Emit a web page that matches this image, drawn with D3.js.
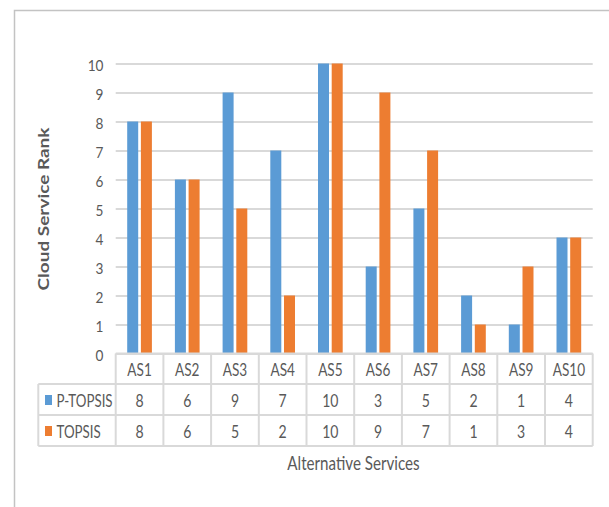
<!DOCTYPE html>
<html>
<head>
<meta charset="utf-8">
<script src="https://cdn.jsdelivr.net/npm/d3@7"></script>
<style>
  html, body { margin: 0; padding: 0; background: #ffffff; }
  svg { display: block; }
  text { font-family: Lato, "Open Sans", sans-serif; fill: #595959; }
</style>
</head>
<body>
<div id="chart"></div>
<script>
// Cloud service ranking of ten alternative services by two methods
const categories = ["AS1", "AS2", "AS3", "AS4", "AS5", "AS6", "AS7", "AS8", "AS9", "AS10"];
const seriesNames = ["P-TOPSIS", "TOPSIS"];
const pTopsisRanks = [8, 6, 9, 7, 10, 3, 5, 2, 1, 4];
const topsisRanks = [8, 6, 5, 2, 10, 9, 7, 1, 3, 4];
const yTicks = [0, 1, 2, 3, 4, 5, 6, 7, 8, 9, 10];
const seriesColors = ["#5B9BD5", "#ED7D31"];

const W = 609, H = 507;
const plot = { left: 115.7, right: 592.7, top: 63.5, bottom: 353.5 };
const table = { left: 38.3, rowTops: [353.5, 384, 415, 446] };
const gridColor = "#D9D9D9";

const svg = d3.select("#chart").append("svg")
  .attr("width", W).attr("height", H);

// outer chart frame (top and left edges)
svg.append("path")
  .attr("d", `M14.5,${H} L14.5,10.5 L${W},10.5`)
  .attr("fill", "none").attr("stroke", "#C3C3C3").attr("stroke-width", 1.5);

const x = d3.scaleBand().domain(categories).range([plot.left, plot.right]);
const xSub = d3.scaleBand().domain(seriesNames).range([0, x.bandwidth()])
  .paddingInner(0.197).paddingOuter(0.84);
const y = d3.scaleLinear().domain([0, 10]).range([plot.bottom, plot.top]);

// text helper: narrow, slightly condensed labels
function label(g, px, py, str, anchor, size, sx, weight) {
  return g.append("text")
    .attr("transform", `translate(${px},${py}) scale(${sx},1)`)
    .attr("text-anchor", anchor || "middle")
    .attr("dominant-baseline", "central")
    .style("font-size", size + "px")
    .style("font-weight", weight || 400)
    .text(str);
}

// horizontal gridlines
const grid = svg.append("g").attr("transform", `translate(${plot.left},0)`)
  .call(d3.axisLeft(y).tickValues(yTicks).tickSize(-(plot.right - plot.left)).tickFormat(""));
grid.select(".domain").remove();
grid.selectAll(".tick line").attr("stroke", gridColor).attr("stroke-width", 2);

// y tick labels
const yLab = svg.append("g");
yTicks.forEach(t => label(yLab, 103.5, y(t) + 1, String(t), "end", 16, 0.85));

// bars
const series = [pTopsisRanks, topsisRanks];
const barG = svg.append("g");
series.forEach((vals, si) => {
  barG.selectAll(null).data(vals).enter().append("rect")
    .attr("x", (d, i) => x(categories[i]) + xSub(seriesNames[si]))
    .attr("width", xSub.bandwidth())
    .attr("y", d => y(d))
    .attr("height", d => y(0) - y(d))
    .attr("fill", seriesColors[si]);
});

// data table below the axis
const tg = svg.append("g");
const line = (x1, y1, x2, y2) => tg.append("line")
  .attr("x1", x1).attr("y1", y1).attr("x2", x2).attr("y2", y2)
  .attr("stroke", gridColor).attr("stroke-width", 2);
const rt = table.rowTops;
line(plot.left, rt[0], plot.right, rt[0]);
line(table.left, rt[1], plot.right, rt[1]);
line(table.left, rt[2], plot.right, rt[2]);
line(table.left, rt[3], plot.right, rt[3]);
line(table.left, rt[1], table.left, rt[3]);
categories.forEach(c => line(x(c), rt[0], x(c), rt[3]));
line(plot.right, rt[0], plot.right, rt[3]);

// header row: category names
categories.forEach(c => label(tg, x(c) + x.bandwidth() / 2, (rt[0] + rt[1]) / 2 + 1, c, "middle", 17, 0.8));

// value rows with legend keys
series.forEach((vals, si) => {
  const cy = (rt[si + 1] + rt[si + 2]) / 2 + 0.5;
  tg.append("rect").attr("x", 45).attr("y", cy - 5).attr("width", 7).attr("height", 10)
    .attr("fill", seriesColors[si]);
  label(tg, 56.5, cy, seriesNames[si], "start", 18, 0.74);
  vals.forEach((v, i) => label(tg, x(categories[i]) + x.bandwidth() / 2, cy, String(v), "middle", 18, 0.78));
});

// axis titles
label(svg, 353.5, 463, "Alternative Services", "middle", 18.5, 0.82);

svg.append("text")
  .attr("transform", "translate(43,209) scale(0.78,1) rotate(-90)")
  .attr("text-anchor", "middle").attr("dominant-baseline", "central")
  .style("font-size", "19px").style("font-weight", 700)
  .text("Cloud Service Rank");
</script>
</body>
</html>
